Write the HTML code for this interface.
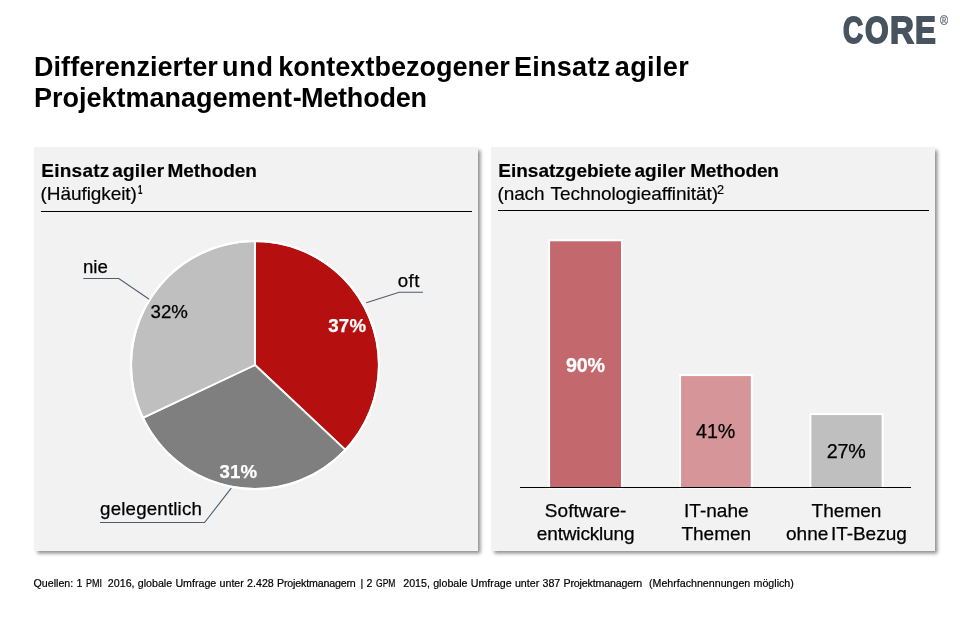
<!DOCTYPE html>
<html lang="de">
<head>
<meta charset="utf-8">
<title>Differenzierter und kontextbezogener Einsatz agiler Projektmanagement-Methoden</title>
<style>
html,body{margin:0;padding:0;background:#fff;}
body{width:960px;height:628px;position:relative;overflow:hidden;font-family:"Liberation Sans",sans-serif;color:#000;}
.abs{position:absolute;white-space:nowrap;line-height:1;}
.logo{left:0;top:12px;font-size:37.6px;font-weight:bold;color:#47535f;-webkit-text-stroke:1.8px #47535f;paint-order:stroke fill;}
.logo span{position:absolute;top:0;transform-origin:0 0;display:block;}
.reg{left:939.6px;top:14.7px;font-size:12.8px;color:#5d6975;transform:scaleX(0.86);transform-origin:0 0;-webkit-text-stroke:0.2px #5d6975;}
.title{left:0;font-size:27px;font-weight:bold;}
.title span{position:absolute;top:0;}
.panel{position:absolute;top:147px;width:444px;height:404px;background:#f2f2f2;box-shadow:2.8px 2.8px 3.6px rgba(0,0,0,0.46);}
.ph{left:0;font-size:19px;-webkit-text-stroke:0.18px #000;}
.ph span{position:absolute;top:0;}
.b{font-weight:bold;}
.ph .sup{font-size:12.67px;top:-0.4px;letter-spacing:0;}
.rule{position:absolute;height:1.2px;background:#000;}
.lbl{font-size:18.67px;-webkit-text-stroke:0.25px currentColor;}
.val{font-size:19.7px;letter-spacing:-0.15px;}
.cat{font-size:19.05px;}
.ctr{text-align:center;transform:translateX(-50%);}
.foot{-webkit-text-stroke:0.2px #000;left:33.5px;top:577.5px;font-size:10.67px;word-spacing:0.3px;}
.sq{display:inline-block;transform-origin:0 50%;}
.pm{letter-spacing:-0.17px;margin-right:2.5px;}
svg{position:absolute;left:0;top:0;}
</style>
</head>
<body>
<div class="abs logo"><span style="left:842.6px;transform:scaleX(0.74)">C</span><span style="left:865.2px;transform:scaleX(0.808)">O</span><span style="left:889.9px;transform:scaleX(0.88)">R</span><span style="left:914.9px;transform:scaleX(0.83)">E</span></div>
<div class="abs reg">®</div>

<div class="abs title" style="top:53.5px"><span style="left:34px;letter-spacing:0.05px">Differenzierter</span> <span style="left:222px;letter-spacing:0.7px">und</span> <span style="left:278.2px;letter-spacing:0.03px">kontextbezogener</span> <span style="left:514px;letter-spacing:0.27px">Einsatz</span> <span style="left:614.8px;letter-spacing:0.39px">agiler</span></div>
<div class="abs title" style="top:85.2px"><span style="left:34px;letter-spacing:-0.01px">Projektmanagement</span><span style="left:292.75px">-</span><span style="left:301.1px;letter-spacing:-0.24px">Methoden</span></div>
<div class="panel" style="left:34px"></div>
<div class="panel" style="left:491px"></div>

<svg width="960" height="628" viewBox="0 0 960 628">
  <!-- pie -->
  <g stroke="#fff" stroke-width="1.9" stroke-linejoin="round">
    <path d="M255 365 L255 241 A124 124 0 0 1 345.39 449.88 Z" fill="#b5100f"/>
    <path d="M255 365 L345.39 449.88 A124 124 0 0 1 142.8 417.8 Z" fill="#7f7f7f"/>
    <path d="M255 365 L142.8 417.8 A124 124 0 0 1 255 241 Z" fill="#bfbfbf"/>
  </g>
  <circle cx="255" cy="365" r="124" fill="none" stroke="#fff" stroke-width="2.2"/>
  <!-- leaders -->
  <g fill="none" stroke="#4f5d69" stroke-width="1.1">
    <polyline points="83.3,278.5 118.8,278.5 149.2,299.2"/>
    <polyline points="423,292.2 399.2,292.2 366.3,302.8"/>
    <polyline points="100,522.5 204.6,522.5 231.25,488.1"/>
  </g>
  <!-- bars -->
  <g stroke="#fff" stroke-width="1.95">
    <rect x="549.1" y="240.3" width="72.9" height="248" fill="#c3686d"/>
    <rect x="680.1" y="375.1" width="71.7" height="113" fill="#d69699"/>
    <rect x="810.4" y="414.1" width="72.2" height="74" fill="#bfbfbf"/>
  </g>
</svg>

<!-- left panel header -->
<div class="abs ph b" style="top:161.1px"><span style="left:41.3px;letter-spacing:0.25px">Einsatz</span> <span style="left:112.2px;letter-spacing:0.24px">agiler</span> <span style="left:167.4px;letter-spacing:-0.02px">Methoden</span></div>
<div class="abs ph" style="top:183.5px"><span style="left:40.6px;letter-spacing:-0.08px">(Häufigkeit)</span><span class="sup b" style="left:137.9px;top:0.5px;transform:scaleX(0.62);transform-origin:0 0">1</span></div>
<div class="rule" style="left:40.6px;top:211px;width:431px"></div>

<!-- right panel header -->
<div class="abs ph b" style="top:161.1px"><span style="left:498.3px;letter-spacing:0px">Einsatzgebiete</span> <span style="left:634.4px;letter-spacing:0.08px">agiler</span> <span style="left:690.2px;letter-spacing:-0.14px">Methoden</span></div>
<div class="abs ph" style="top:183.5px"><span style="left:497.6px;letter-spacing:-0.15px">(nach</span> <span style="left:550.5px;letter-spacing:-0.06px">Technologieaffinität)</span><span class="sup" style="left:716.9px;top:0.5px">2</span></div>
<div class="rule" style="left:497.6px;top:209.9px;width:431px"></div>

<!-- pie labels -->
<div class="abs lbl" style="left:82.9px;top:257.9px">nie</div>
<div class="abs lbl" style="left:397.7px;top:271.7px;letter-spacing:0.5px">oft</div>
<div class="abs lbl" style="left:100.1px;top:500px;letter-spacing:0.2px">gelegentlich</div>
<div class="abs lbl" style="left:150.6px;top:302.5px">32%</div>
<div class="abs lbl b" style="left:328.3px;top:317px;letter-spacing:0.2px;color:#fff">37%</div>
<div class="abs lbl b" style="left:219.4px;top:462.5px;letter-spacing:0.2px;color:#fff">31%</div>

<!-- bar labels -->
<div class="abs lbl val b ctr" style="left:585.5px;top:355.6px;color:#fff">90%</div>
<div class="abs lbl val ctr" style="left:715.6px;top:421.6px">41%</div>
<div class="abs lbl val ctr" style="left:846.2px;top:441.6px">27%</div>
<div class="rule" style="left:520px;top:486.6px;width:391px"></div>

<div class="abs lbl cat ctr" style="left:585.6px;top:500.7px">Software-</div>
<div class="abs lbl cat ctr" style="left:585.6px;top:523.85px;letter-spacing:-0.18px">entwicklung</div>
<div class="abs lbl cat ctr" style="left:716.3px;top:500.7px">IT-nahe</div>
<div class="abs lbl cat ctr" style="left:716.3px;top:523.85px">Themen</div>
<div class="abs lbl cat ctr" style="left:846.5px;top:500.7px">Themen</div>
<div class="abs lbl cat ctr" style="left:846.4px;top:523.85px;word-spacing:-2.6px;letter-spacing:-0.04px">ohne IT-Bezug</div>

<div class="abs foot">Quellen: 1 <span class="sq" style="transform:scaleX(0.84)">PMI</span> 2016, globale Umfrage unter 2.428 <span class="pm" style="margin-right:1.6px">Projektmanagern</span> | 2 <span class="sq" style="transform:scaleX(0.8)">GPM</span> 2015, globale Umfrage unter 387 <span class="pm" style="margin-right:3.6px">Projektmanagern</span> (Mehrfachnennungen möglich)</div>
</body>
</html>
